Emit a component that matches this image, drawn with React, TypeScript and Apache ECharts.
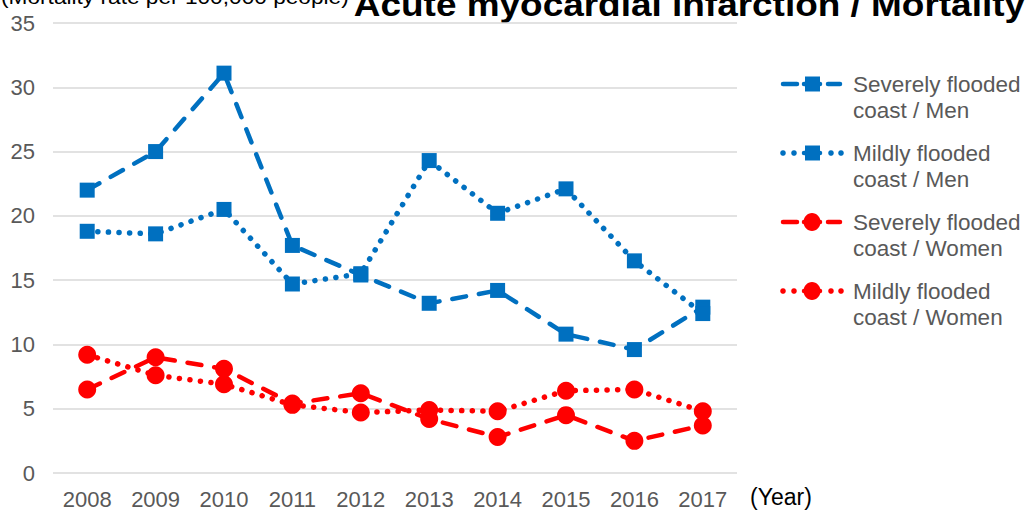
import React, { useEffect, useRef } from "react";
import * as echarts from "echarts";

const years = ["2008", "2009", "2010", "2011", "2012", "2013", "2014", "2015", "2016", "2017"];
const severeMen = [22.0, 25.0, 31.1, 17.7, 15.4, 13.2, 14.2, 10.8, 9.6, 12.9];
const mildMen = [18.8, 18.6, 20.5, 14.7, 15.5, 24.3, 20.2, 22.1, 16.5, 12.4];
const severeWomen = [6.5, 9.0, 8.1, 5.4, 6.2, 4.2, 2.8, 4.5, 2.5, 3.7];
const mildWomen = [9.2, 7.6, 6.9, 5.3, 4.7, 4.9, 4.8, 6.4, 6.5, 4.8];
const seriesNames = [
  "Severely flooded\ncoast / Men",
  "Mildly flooded\ncoast / Men",
  "Severely flooded\ncoast / Women",
  "Mildly flooded\ncoast / Women",
];
const yMin = 0;
const yMax = 35;
const yStep = 5;

const BLUE = "#0070C0";
const RED = "#FF0000";
const GRAY = "#595959";
const FONT = "Liberation Sans, Arial, sans-serif";

const DASH = [14, 13];
const DOT = [0.1, 10.5];

export default function App() {
  const ref = useRef<HTMLDivElement>(null);
  useEffect(() => {
    document.body.style.margin = "0";
    const chart = echarts.init(ref.current!, undefined, { renderer: "svg" });

    const styles = [
      { color: BLUE, dash: DASH, width: 4.5, symbol: "rect", size: 15 },
      { color: BLUE, dash: DOT, width: 5.5, symbol: "rect", size: 15 },
      { color: RED, dash: DASH, width: 4.5, symbol: "circle", size: 18 },
      { color: RED, dash: DOT, width: 5.5, symbol: "circle", size: 18 },
    ];
    const dataSets = [severeMen, mildMen, severeWomen, mildWomen];

    const legendGraphics: any[] = [];
    const legendTop = 84;
    const legendGap = 69;
    styles.forEach((s, i) => {
      const cy = legendTop + i * legendGap;
      const children: any[] = [];
      if (s.dash === DASH) {
        children.push({
          type: "line",
          shape: { x1: 783, y1: cy, x2: 797, y2: cy },
          style: { stroke: s.color, lineWidth: 4.5, lineCap: "round" },
        });
        children.push({
          type: "line",
          shape: { x1: 828, y1: cy, x2: 840, y2: cy },
          style: { stroke: s.color, lineWidth: 4.5, lineCap: "round" },
        });
      } else {
        [783, 794, 831, 841].forEach((cx) =>
          children.push({
            type: "circle",
            shape: { cx, cy, r: 2.8 },
            style: { fill: s.color },
          })
        );
      }
      children.push({
        type: "line",
        shape: { x1: 804, y1: cy, x2: 820, y2: cy },
        style: { stroke: s.color, lineWidth: 4.5, lineCap: "round" },
      });
      if (s.symbol === "rect") {
        children.push({
          type: "rect",
          shape: { x: 805, y: cy - 7.5, width: 15, height: 15 },
          style: { fill: s.color },
        });
      } else {
        children.push({
          type: "ellipse",
          shape: { cx: 812, cy, rx: 8.5, ry: 9 },
          style: { fill: s.color },
        });
      }
      children.push({
        type: "text",
        x: 853,
        y: cy - 13,
        style: {
          text: seriesNames[i],
          fill: GRAY,
          font: `22.5px ${FONT}`,
          lineHeight: 26,
          verticalAlign: "top",
          align: "left",
        },
      });
      legendGraphics.push({ type: "group", children });
    });

    chart.setOption({
      animation: false,
      grid: { left: 53, right: 290, top: 23, bottom: 40, containLabel: false },
      xAxis: {
        type: "category",
        data: years,
        boundaryGap: true,
        axisLine: { show: false },
        axisTick: { show: false },
        axisLabel: { color: GRAY, fontSize: 22, fontFamily: FONT, margin: 15 },
      },
      yAxis: {
        type: "value",
        min: yMin,
        max: yMax,
        interval: yStep,
        axisLine: { show: false },
        axisTick: { show: false },
        axisLabel: { color: GRAY, fontSize: 22, fontFamily: FONT, margin: 18 },
        splitLine: { lineStyle: { color: "#D9D9D9", width: 1.5 } },
      },
      series: styles.map((s, i) => ({
        name: seriesNames[i],
        type: "line",
        data: dataSets[i],
        symbol: s.symbol,
        symbolSize: s.size,
        showAllSymbol: true,
        itemStyle: { color: s.color },
        lineStyle: { color: s.color, width: s.width, type: s.dash, cap: "round" },
        z: 2 + i,
      })),
      graphic: [
        {
          type: "text",
          x: 1025,
          y: 4.5,
          scaleX: 1.12,
          style: {
            text: "Acute myocardial infarction / Mortality",
            fill: "#000000",
            font: `bold 33px ${FONT}`,
            align: "right",
            verticalAlign: "middle",
          },
        },
        {
          type: "text",
          x: 1,
          y: -3,
          scaleX: 1.08,
          style: {
            text: "(Mortality rate per 100,000 people)",
            fill: "#000000",
            font: `21px ${FONT}`,
            align: "left",
            verticalAlign: "middle",
          },
        },
        {
          type: "text",
          x: 750,
          y: 497,
          style: {
            text: "(Year)",
            fill: "#000000",
            font: `23px ${FONT}`,
            align: "left",
            verticalAlign: "middle",
          },
        },
        ...legendGraphics,
      ],
    });
    return () => chart.dispose();
  }, []);
  return <div ref={ref} style={{ width: 1027, height: 513 }} />;
}
